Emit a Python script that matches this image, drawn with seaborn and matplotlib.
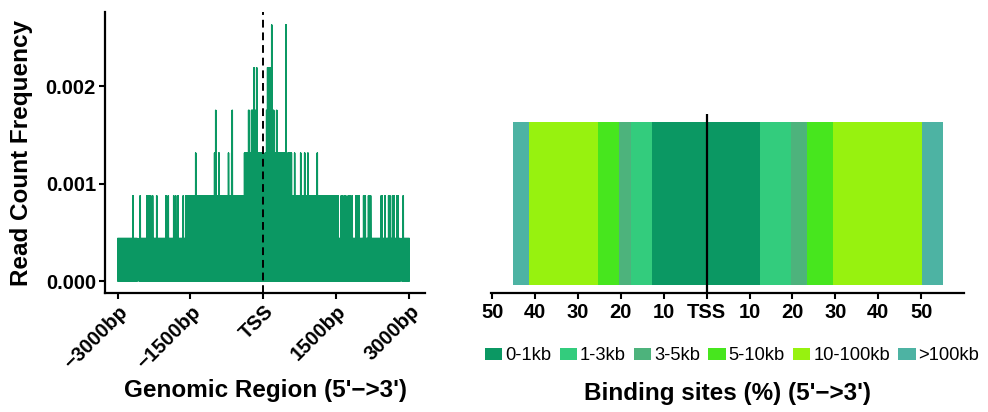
import numpy as np
import pandas as pd
import matplotlib
matplotlib.use("Agg")
import matplotlib.pyplot as plt
import seaborn as sns
from matplotlib.patches import Patch

# ---------------- data: tag profile around the TSS ----------------
# one read is ~0.000438 of all reads; heights below are read counts
read_unit = 0.000438
window_bp = (-3000, 3000)
# base level (1 read) everywhere except these short empty stretches
empty_bp = [(-2590, -2560), (2812, 2840)]
# stretches reaching 2 reads
level2_bp = [(-2688, -2676), (-2538, -2526), (-2400, -2388), (-2359, -2347), (-2324, -2312),
             (-2283, -2271), (-2201, -2189), (-2010, -1998), (-1962, -1950), (-1851, -1839),
             (-1810, -1798), (-1763, -1751), (-1654, -1642), (-1600, -1440), (-1415, -1380),
             (-1355, -1318), (-1292, -1215), (-1190, -1112), (-1087, 700), (720, 812),
             (830, 895), (915, 985), (1005, 1052), (1070, 1155), (1175, 1292), (1310, 1360),
             (1380, 1460), (1478, 1504), (1531, 1543), (1593, 1619), (1654, 1695), (1737, 1749),
             (1772, 1784), (1819, 1831), (1895, 1928), (1957, 1969), (2051, 2100), (2154, 2209),
             (2415, 2441), (2491, 2503), (2565, 2600), (2647, 2688), (2743, 2770), (2867, 2879)]
# stretches reaching 3 reads
level3_bp = [(-1399, -1387), (-1011, -976), (-920, -908), (-725, -713), (-659, -647),
             (-395, -5), (30, 185), (205, 270), (285, 390), (410, 480), (500, 580),
             (635, 647), (758, 770), (841, 853), (908, 920), (1100, 1112)]
# stretches reaching 4 reads
level4_bp = [(-988, -976), (-647, -635), (-312, -292), (-251, -160), (58, 216), (265, 278), (455, 468)]
# stretches reaching 5 reads
level5_bp = [(-195, -183), (-146, -134), (78, 169), (455, 468)]
# stretches reaching 6 reads
level6_bp = [(163, 175), (455, 468)]

# ---------------- data: distance of binding sites to TSS ----------------
dist_class = ["0-1kb", "1-3kb", "3-5kb", "5-10kb", "10-100kb", ">100kb"]
upstream_pct = [12.75, 4.9, 2.8, 4.9, 16.1, 3.7]
downstream_pct = [12.4, 7.2, 3.7, 6.1, 20.7, 4.9]
class_colors = ["#0B9863", "#33CC7D", "#4DB37C", "#47E61E", "#97F20F", "#4DB3A3"]

# ---------------- build the profile ----------------
pos = np.arange(window_bp[0], window_bp[1] + 1)
reads = np.ones(len(pos))
for a, b in empty_bp:
    reads[(pos >= a) & (pos <= b)] = 0
for lvl, spans in [(2, level2_bp), (3, level3_bp), (4, level4_bp), (5, level5_bp), (6, level6_bp)]:
    for a, b in spans:
        reads[(pos >= a) & (pos <= b)] = lvl
freq = reads * read_unit
# profile is drawn as a line that drops to zero between positions
prof = pd.DataFrame({"pos": np.repeat(pos, 2),
                     "freq": np.column_stack([np.zeros(len(pos)), freq]).ravel()})

dist = pd.DataFrame({"cls": dist_class * 2,
                     "side": ["up"] * 6 + ["down"] * 6,
                     "pct": upstream_pct + downstream_pct})
dist["edge"] = dist.groupby("side")["pct"].cumsum()
dist.loc[dist.side == "up", "edge"] *= -1
dist["row"] = 0

# ---------------- plot ----------------
sns.set_style("ticks")
plt.rcParams["font.family"] = ["Liberation Sans", "DejaVu Sans"]
plt.rcParams["font.weight"] = "bold"
for k in ["text.color", "axes.labelcolor", "xtick.color", "ytick.color", "axes.edgecolor"]:
    plt.rcParams[k] = "black"

fig = plt.figure(figsize=(9.88, 4.12), dpi=100)
ax1 = fig.add_axes([105 / 988, 119 / 412, 320 / 988, 281 / 412])
ax2 = fig.add_axes([491 / 988, 119 / 412, 473 / 988, 179 / 412])

# left: read count frequency
sns.lineplot(data=prof, x="pos", y="freq", estimator=None, sort=False,
             color=class_colors[0], linewidth=0.7, ax=ax1)
ax1.axvline(0, color="black", linestyle=(0, (4, 2.5)), linewidth=1.4)
ax1.set_xlim(-3257, 3319)
ax1.set_ylim(-0.000123, 0.00276)
ax1.set_xticks([-3000, -1500, 0, 1500, 3000])
ax1.set_xticklabels(["\u22123000bp", "\u22121500bp", "TSS", "1500bp", "3000bp"],
                    fontsize=14.5, fontweight="bold")
plt.setp(ax1.get_xticklabels(), rotation=45, ha="right", rotation_mode="anchor")
ax1.set_yticks([0, 0.001, 0.002])
ax1.set_yticklabels(["0.000", "0.001", "0.002"], fontsize=14.5, fontweight="bold")
ax1.set_xlabel("Genomic Region (5'\u2212>3')", fontsize=17.5, fontweight="bold")
ax1.set_ylabel("Read Count Frequency", fontsize=17.5, fontweight="bold")
ax1.xaxis.set_label_coords(0.5, -0.305)
ax1.yaxis.set_label_coords(-0.225, 0.5)
sns.despine(ax=ax1)
for s in ["left", "bottom"]:
    ax1.spines[s].set_linewidth(1.6)
ax1.tick_params(width=1.5, length=4.5, color="black", pad=2)

# right: stacked distance bars, outermost class first
for side in ["up", "down"]:
    for cls, col in zip(dist_class[::-1], class_colors[::-1]):
        sub = dist[(dist.side == side) & (dist.cls == cls)]
        sns.barplot(data=sub, x="edge", y="row", orient="h", color=col, saturation=1,
                    width=0.91, errorbar=None, linewidth=0, ax=ax2)
ax2.axvline(0, color="black", linewidth=1.6)
ax2.set_xlim(-50.28, 59.98)
ax2.set_ylim(0.5, -0.5)
ax2.set_xticks([-50, -40, -30, -20, -10, 0, 10, 20, 30, 40, 50])
ax2.set_xticklabels(["50", "40", "30", "20", "10", "TSS", "10", "20", "30", "40", "50"],
                    fontsize=14.5, fontweight="bold")
ax2.set_yticks([])
ax2.set_ylabel("")
ax2.set_xlabel("Binding sites (%) (5'\u2212>3')", fontsize=17.5, fontweight="bold")
ax2.xaxis.set_label_coords(0.5, -0.497)
sns.despine(ax=ax2, left=True)
ax2.spines["bottom"].set_linewidth(1.6)
ax2.tick_params(axis="x", width=1.5, length=4, color="black", pad=3)

handles = [Patch(facecolor=c, edgecolor="none") for c in class_colors]
fig.legend(handles, dist_class, loc="center", bbox_to_anchor=(0.741, 0.136), ncol=6,
           frameon=False, handlelength=0.95, handleheight=0.65, handletextpad=0.15,
           columnspacing=0.45, borderaxespad=0, prop={"size": 13.2, "weight": "normal"})

fig.savefig("out.png", dpi=100)
